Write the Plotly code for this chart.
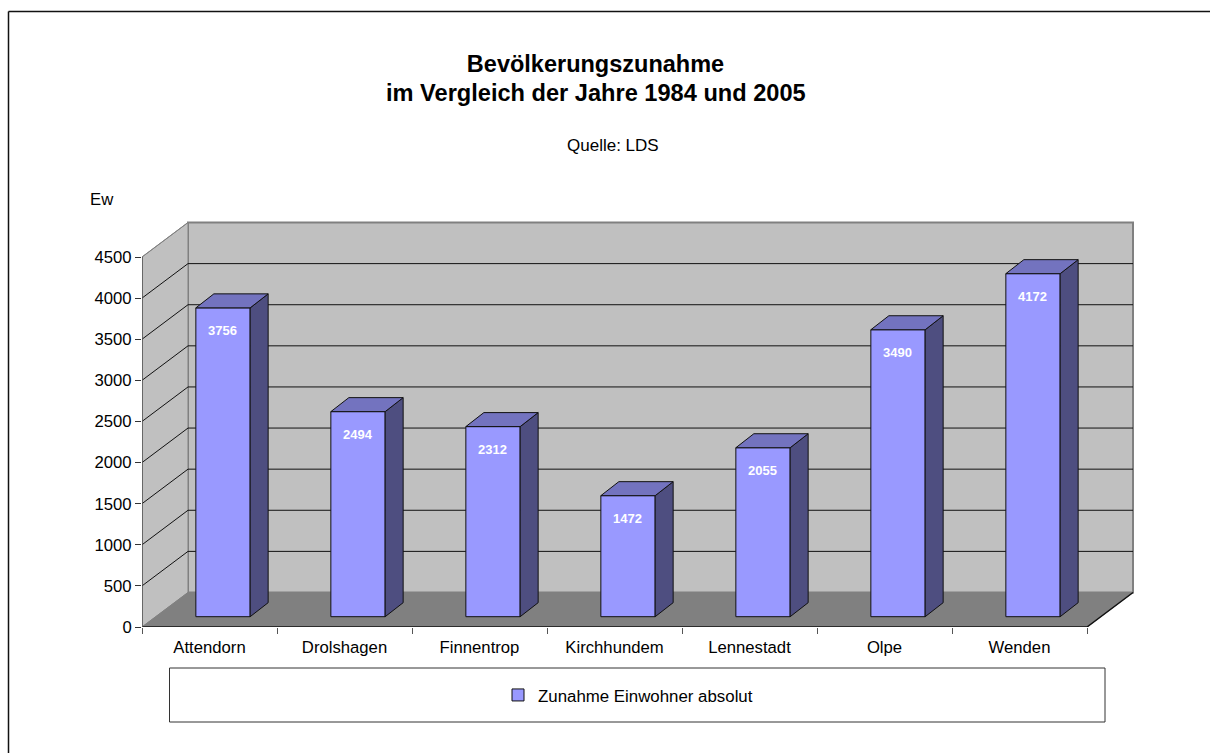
import plotly.graph_objects as go

categories = ["Attendorn", "Drolshagen", "Finnentrop", "Kirchhundem", "Lennestadt", "Olpe", "Wenden"]
values = [3756, 2494, 2312, 1472, 2055, 3490, 4172]
y_ticks = [0, 500, 1000, 1500, 2000, 2500, 3000, 3500, 4000, 4500]
series_name = "Zunahme Einwohner absolut"

W, H = 1210, 753
PX_L, PX_R, PX_T, PX_B = 142, 1136, 220, 627
CAT_PX = 135.0
UNIT_PX = 370.0 / 4500
xu = lambda px: px / CAT_PX
yu = lambda px: px / UNIT_PX
px_paper = lambda px: (px - PX_L) / (PX_R - PX_L)
py_paper = lambda py: (PX_B - py) / (PX_B - PX_T)

FONT = "Liberation Sans"
N = len(categories)
YMAX = y_ticks[-1]
WALL_DX, WALL_DY = xu(46), yu(34.5)
BAR_W, BAR_OFF, BAR_BASE = xu(54.3), 0.6, yu(10.3)
BAR_DX, BAR_DY = xu(18), yu(14)

FRONT, SIDE, TOP = "#9999FF", "#4E4E80", "#7373BF"
WALL, FLOOR, EDGE = "#C0C0C0", "#808080", "#808080"


def poly(pts):
    return "M " + " L ".join(f"{a},{b}" for a, b in pts) + " Z"


shapes = [
    dict(type="path", layer="below", xref="x", yref="y", fillcolor=WALL, line=dict(color=EDGE, width=2),
         path=poly([(WALL_DX, WALL_DY), (N + WALL_DX, WALL_DY), (N + WALL_DX, YMAX + WALL_DY), (WALL_DX, YMAX + WALL_DY)])),
    dict(type="path", layer="below", xref="x", yref="y", fillcolor=WALL, line=dict(color=EDGE, width=1),
         path=poly([(0, 0), (WALL_DX, WALL_DY), (WALL_DX, YMAX + WALL_DY), (0, YMAX)])),
    dict(type="path", layer="below", xref="x", yref="y", fillcolor=FLOOR, line=dict(color=FLOOR, width=1),
         path=poly([(0, 0), (N, 0), (N + WALL_DX, WALL_DY), (WALL_DX, WALL_DY)])),
]
for t in y_ticks[1:]:
    shapes.append(dict(type="line", layer="below", xref="x", yref="y", x0=0, y0=t, x1=WALL_DX, y1=t + WALL_DY,
                       line=dict(color=EDGE if t == YMAX else "#111111", width=1)))
    if t != YMAX:
        shapes.append(dict(type="line", layer="below", xref="x", yref="y", x0=WALL_DX, y0=t + WALL_DY,
                           x1=N + WALL_DX, y1=t + WALL_DY, line=dict(color="#111111", width=1)))
# chart outer frame and legend box
shapes += [
    dict(type="line", xref="paper", yref="paper", x0=px_paper(8.5), x1=px_paper(8.5), y0=py_paper(11.5), y1=py_paper(H), line=dict(color="#111111", width=1.5)),
    dict(type="line", xref="paper", yref="paper", x0=px_paper(8.5), x1=px_paper(W), y0=py_paper(11.5), y1=py_paper(11.5), line=dict(color="#111111", width=1.5)),
    dict(type="rect", xref="paper", yref="paper", x0=px_paper(169.5), x1=px_paper(1105), y0=py_paper(668), y1=py_paper(722), line=dict(color="#333333", width=1)),
]

fig = go.Figure()
xs = [i + BAR_OFF for i in range(N)]
fig.add_trace(go.Bar(x=xs, y=values, base=[BAR_BASE] * N, width=BAR_W, name=series_name,
                     marker=dict(color=FRONT, line=dict(color="#111111", width=1)), showlegend=True, hoverinfo="skip"))

for x, v in zip(xs, values):
    l, r = x - BAR_W / 2, x + BAR_W / 2
    b, t = BAR_BASE, BAR_BASE + v
    fig.add_trace(go.Scatter(x=[r, r + BAR_DX, r + BAR_DX, r, r], y=[b, b + BAR_DY, t + BAR_DY, t, b], mode="lines",
                             fill="toself", fillcolor=SIDE, line=dict(color="#111111", width=1), showlegend=False, hoverinfo="skip"))
    fig.add_trace(go.Scatter(x=[l, r, r + BAR_DX, l + BAR_DX, l], y=[t, t, t + BAR_DY, t + BAR_DY, t], mode="lines",
                             fill="toself", fillcolor=TOP, line=dict(color="#111111", width=1), showlegend=False, hoverinfo="skip"))

fig.add_trace(go.Scatter(x=[x - xu(0.5) for x in xs], y=[BAR_BASE + v - yu(24) for v in values], mode="text", text=[str(v) for v in values],
                         textfont=dict(family=FONT, size=13, color="white", weight="bold"), showlegend=False, hoverinfo="skip"))
# axis edges
fig.add_trace(go.Scatter(x=[0, N, N + WALL_DX], y=[0, 0, WALL_DY], mode="lines", line=dict(color="#111111", width=1.5),
                         cliponaxis=False, showlegend=False, hoverinfo="skip"))
fig.add_trace(go.Scatter(x=[0, 0], y=[0, YMAX], mode="lines", line=dict(color="#555555", width=1.5),
                         cliponaxis=False, showlegend=False, hoverinfo="skip"))

annots = [
    dict(text="<b>im Vergleich der Jahre 1984 und 2005</b>", x=px_paper(595.5), y=py_paper(93), xref="paper", yref="paper", showarrow=False,
         font=dict(family=FONT, size=23.6, color="black"), xanchor="center", yanchor="middle"),
    dict(text="Quelle: LDS", x=px_paper(613), y=py_paper(145), xref="paper", yref="paper", showarrow=False,
         font=dict(family=FONT, size=17, color="black"), xanchor="center", yanchor="middle"),
    dict(text="Ew", x=px_paper(102), y=py_paper(199), xref="paper", yref="paper", showarrow=False,
         font=dict(family=FONT, size=16.7, color="black"), xanchor="center", yanchor="middle"),
]

fig.update_layout(
    width=W, height=H, autosize=False, margin=dict(l=PX_L, r=W - PX_R, t=PX_T, b=H - PX_B, pad=0),
    paper_bgcolor="white", plot_bgcolor="white", shapes=shapes, annotations=annots,
    font=dict(family=FONT, size=16.7, color="black"),
    title=dict(text="<b>Bevölkerungszunahme</b>",
               x=595.5 / W, xanchor="center", y=1 - 56 / H, yanchor="top", font=dict(family=FONT, size=23.5, color="black")),
    legend=dict(x=px_paper(498), y=py_paper(695), xanchor="left", yanchor="middle", bgcolor="rgba(0,0,0,0)",
                font=dict(family=FONT, size=16.85, color="black"), itemwidth=30),
    xaxis=dict(range=[0, xu(PX_R - PX_L)], tickmode="array", tickvals=[i + 0.5 for i in range(N)], ticktext=categories,
               ticks="outside", ticklen=5, tickcolor="rgba(0,0,0,0)", showgrid=False, zeroline=False, showline=False,
               minor=dict(tickmode="array", tickvals=list(range(N + 1)), ticks="outside", ticklen=6, tickcolor="#555555", tickwidth=1, showgrid=False)),
    yaxis=dict(range=[0, yu(PX_B - PX_T)], tickmode="array", tickvals=y_ticks, ticks="outside", ticklen=6, tickcolor="#333333",
               showgrid=False, zeroline=False, showline=False),
    barmode="overlay",
)
fig.write_html("out.html", config={"displayModeBar": False},
               post_script="document.body.style.margin='0';document.body.style.overflow='hidden';")
